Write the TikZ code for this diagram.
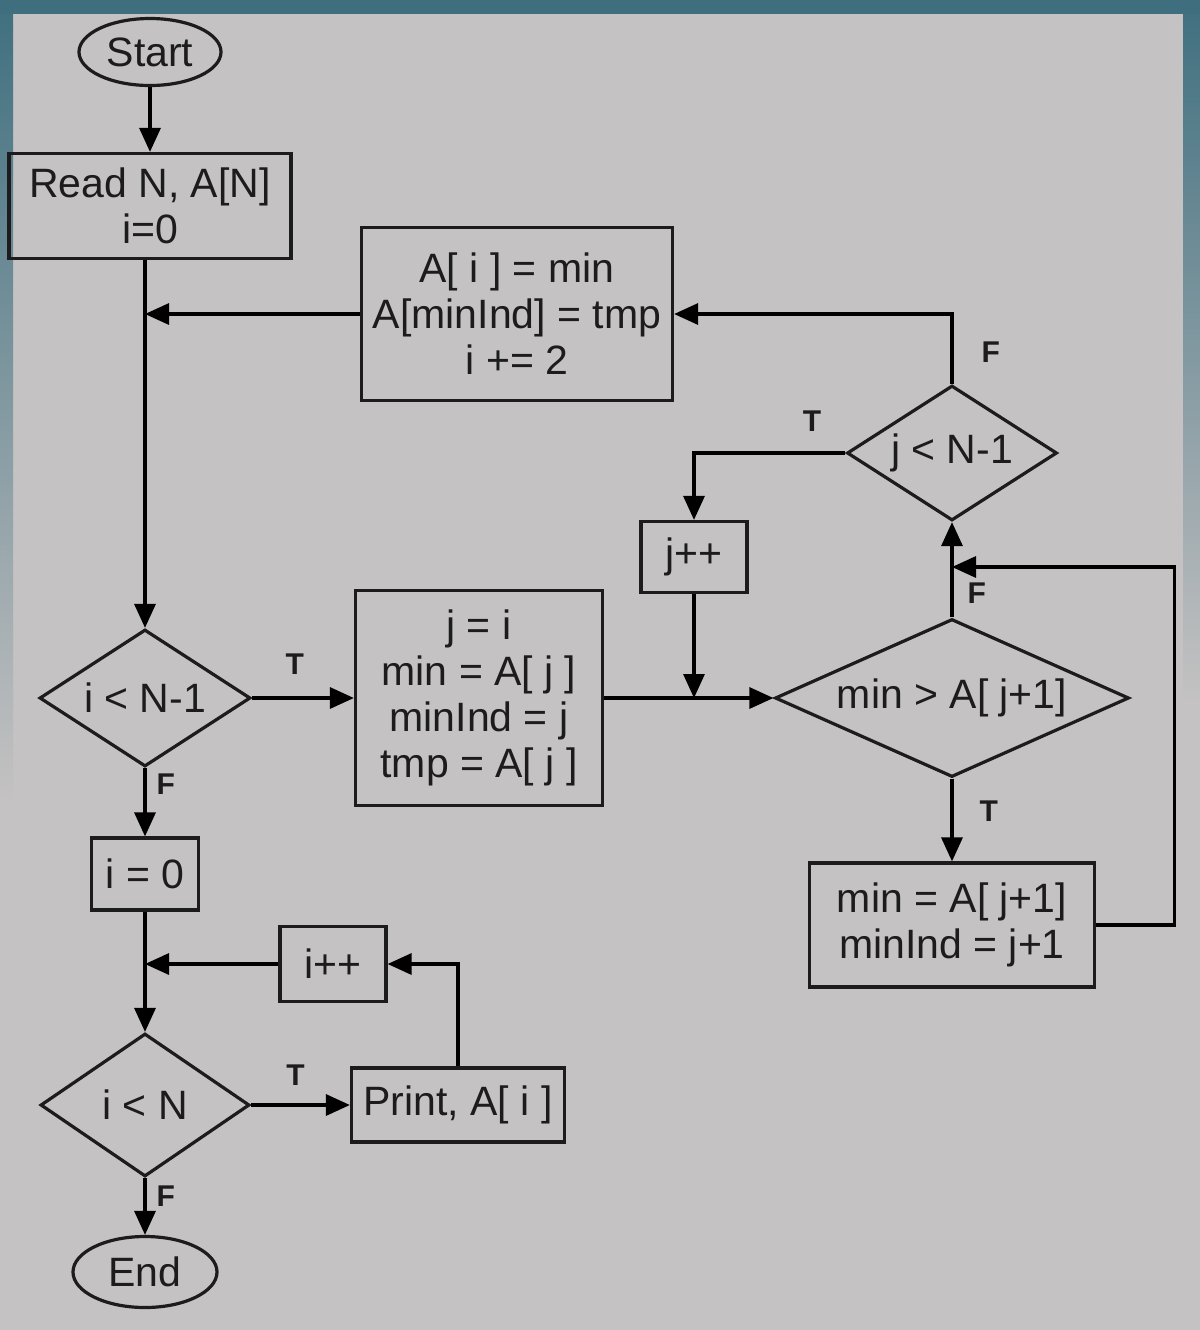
\documentclass[tikz,border=0pt]{standalone}
\usepackage{fontspec}
\setmainfont{Liberation Sans}
\usetikzlibrary{shapes.geometric,arrows.meta}

\definecolor{screen}{HTML}{C4C2C2}
\definecolor{bezel}{HTML}{3F6F7F}
\definecolor{ink}{HTML}{1C1C1C}

\newcommand{\boxfont}{\fontsize{20.5pt}{23pt}\selectfont}
\newcommand{\tffont}{\fontsize{15pt}{17pt}\selectfont\bfseries}

\tikzset{
  proc/.style={draw=ink, rectangle, align=center, inner sep=0pt, font=\boxfont},
  test/.style={draw=ink, diamond, inner sep=0pt, font=\boxfont},
  term/.style={draw=ink, ellipse, inner sep=0pt, font=\boxfont},
  tf/.style={font=\tffont, text=ink, inner sep=1pt},
}

\begin{document}
\begin{tikzpicture}[x=0.5pt, y=-0.5pt, line width=1.6pt, text=ink,
    >={Triangle[length=12pt,width=10.5pt]}]
   \useasboundingbox (0,0) rectangle (1200,1330);
   % photographed screen
   \fill[screen] (0,0) rectangle (1200,1330);
   \shade[top color=bezel, bottom color=screen] (0,0) rectangle (13,800);
   \shade[top color=bezel, bottom color=screen] (1183,0) rectangle (1200,700);
   \fill[bezel] (0,0) rectangle (1200,14);

   \node (start)  [term, minimum width=71pt, minimum height=33.5pt] at (150,52) {Start};
   \node (read)   [proc, below of=start, node distance=77pt,
                   minimum width=141pt, minimum height=52.5pt] {Read N, A[N]\\i=0};
   \node (iN1)    [test, shape aspect=1.5, minimum width=105.5pt, minimum height=68.5pt]
                  at (145,698) {i < N-1};
   \node (izero)  [proc, below of=iN1, node distance=88pt,
                   minimum width=53.5pt, minimum height=36pt] {i = 0};
   \node (iN)     [test, shape aspect=1.5, minimum width=104.5pt, minimum height=71.5pt,
                   below of=izero, node distance=115.5pt] {i < N};
   \node (end)    [term, below of=iN, node distance=83.5pt,
                   minimum width=72pt, minimum height=35.5pt] {End};
   \node (init)   [proc, right of=iN1, node distance=167pt,
                   minimum width=123.5pt, minimum height=107.5pt]
                  {j = i\\min = A[ j ]\\minInd = j\\tmp = A[ j ]};
   \node (cmp)    [test, shape aspect=2.2, minimum width=177pt, minimum height=79pt,
                   right of=init, node distance=236.5pt] {min > A[ j+1]};
   \node (jN1)    [test, shape aspect=1.55, minimum width=105pt, minimum height=67.5pt,
                   above of=cmp, node distance=122.5pt] {j < N-1};
   \node (upd)    [proc, below of=cmp, node distance=113.5pt,
                   minimum width=142.5pt, minimum height=62pt] {min = A[ j+1]\\minInd = j+1};
   \node (jinc)   [proc, minimum width=53pt, minimum height=35.5pt] at (694,557) {j++};
   \node (assign) [proc, minimum width=155.5pt, minimum height=86.5pt]
                  at (517,314) {A[ i ] = min\\A[minInd] = tmp\\i += 2};
   \node (print)  [proc, right of=iN, node distance=156.5pt,
                   minimum width=106.5pt, minimum height=37pt] {Print, A[ i ]};
   \node (iinc)   [proc, minimum width=53pt, minimum height=37.5pt] at (333,964) {i++};
   \coordinate (loopin) at (952,567);

   \path[->]
     (start) edge (read)
     (iN1)   edge node [tf, pos=0.42, above=10pt] {T} (init)
             edge node [tf, pos=0.23, right=4pt] {F} (izero)
     (izero) edge (iN)
     (iN)    edge node [tf, pos=0.45, above=8pt] {T} (print)
             edge node [tf, pos=0.32, right=4pt] {F} (end)
     (init)  edge (cmp)
     (cmp)   edge node [tf, pos=0.25, right=6pt] {F} (jN1)
             edge node [tf, pos=0.39, right=12pt] {T} (upd);

   \draw[->] (read.south -| iN1) -- (iN1);
   \draw[->] (assign) -- (assign -| iN1);
   \draw[->] (jN1) |- node [tf, pos=0.23, right=13pt] {F} (assign);
   \draw[->] (jN1) -| node [tf, pos=0.11, above=9pt] {T} (jinc);
   \draw[->] (jinc) -- (jinc |- init);
   \draw[->] (upd.east) -- ++(78,0) |- (loopin);
   \draw[->] (iinc) -- (iinc -| izero);
   \draw[->] (print) |- (iinc);
\end{tikzpicture}
\end{document}
